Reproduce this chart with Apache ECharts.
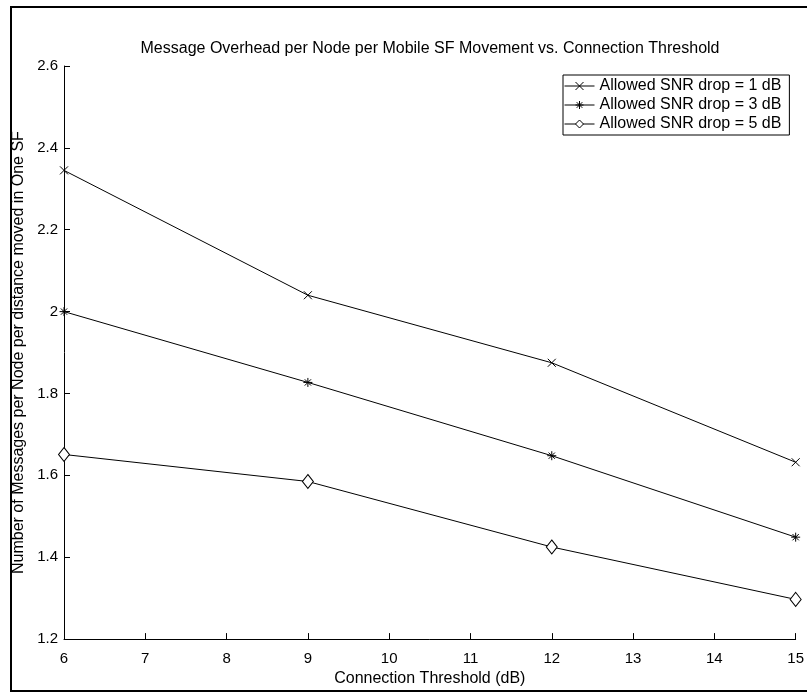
<!DOCTYPE html>
<html>
<head>
<meta charset="utf-8">
<script src="https://cdn.jsdelivr.net/npm/echarts@6/dist/echarts.min.js"></script>
<style>html,body{margin:0;padding:0;background:#fff}#c{width:807px;height:692px}</style>
</head>
<body>
<div id="c"></div>
<script>
var thresholds = [6, 9, 12, 15];
var snr1 = [2.345, 2.040, 1.875, 1.632];
var snr3 = [2.000, 1.827, 1.648, 1.449];
var snr5 = [1.651, 1.585, 1.425, 1.297];
var seriesNames = ['Allowed SNR drop = 1 dB', 'Allowed SNR drop = 3 dB', 'Allowed SNR drop = 5 dB'];
var xTicks = [6, 7, 8, 9, 10, 11, 12, 13, 14, 15];
var yTicks = [1.2, 1.4, 1.6, 1.8, 2, 2.2, 2.4, 2.6];

var FONT = 'Liberation Sans, Arial, Helvetica, sans-serif';
function pairs(ys) { return thresholds.map(function (x, i) { return [x, ys[i]]; }); }

var crossPath = 'path://M0,0L10,10M10,0L0,10';
var starPath = 'path://M5,0L5,10M0,5L10,5M1.5,1.5L8.5,8.5M8.5,1.5L1.5,8.5';

function mk(name, ys, symbol, size) {
  return {
    name: name, type: 'line', data: pairs(ys),
    symbol: symbol, symbolSize: size, showAllSymbol: true,
    lineStyle: { color: '#000', width: 1 },
    itemStyle: { color: '#fff', borderColor: '#000', borderWidth: 1 },
    emphasis: { disabled: true },
    animation: false
  };
}

var chart = echarts.init(document.getElementById('c'), null, { renderer: 'canvas' });
chart.setOption({
  backgroundColor: '#fff',
  animation: false,
  title: {
    text: 'Message Overhead per Node per Mobile SF Movement vs. Connection Threshold',
    left: 425, top: 36, textAlign: 'center',
    textStyle: { fontFamily: FONT, fontSize: 16, fontWeight: 'normal', color: '#000' }
  },
  legend: {
    data: seriesNames,
    orient: 'vertical', left: 563, top: 75,
    itemWidth: 30, itemHeight: 10, itemGap: 3, itemTextGap: 3,
    padding: [3, 8, 3, 1],
    borderColor: '#000', borderWidth: 1, backgroundColor: '#fff',
    lineStyle: { width: 1, color: '#000' },
    itemStyle: { borderWidth: 1, borderColor: '#000', color: '#fff' },
    textStyle: { fontFamily: FONT, fontSize: 16, lineHeight: 16, color: '#000' },
    selectedMode: false
  },
  grid: { left: 64, right: 8, top: 66, bottom: 45, containLabel: false },
  xAxis: {
    type: 'value', min: xTicks[0], max: xTicks[xTicks.length - 1], interval: 1,
    name: 'Connection Threshold (dB)', nameLocation: 'middle', nameGap: 30,
    nameTextStyle: { fontFamily: FONT, fontSize: 16, color: '#000' },
    axisLine: { lineStyle: { color: '#000', width: 1 } },
    axisTick: { inside: true, length: 6, lineStyle: { color: '#000' } },
    axisLabel: { fontFamily: FONT, fontSize: 15, color: '#000', margin: 12 },
    splitLine: { show: false }
  },
  yAxis: {
    type: 'value', min: yTicks[0], max: yTicks[yTicks.length - 1], interval: 0.2,
    name: 'Number of Messages per Node per distance moved in One SF', nameLocation: 'middle', nameGap: 33,
    nameTextStyle: { fontFamily: FONT, fontSize: 16, color: '#000' },
    axisLine: { show: true, lineStyle: { color: '#000', width: 1 } },
    axisTick: { show: true, inside: true, length: 6, lineStyle: { color: '#000' } },
    axisLabel: { fontFamily: FONT, fontSize: 15, color: '#000', margin: 6,
      formatter: function (v) { return String(Math.round(v * 10) / 10); } },
    splitLine: { show: false }
  },
  graphic: [{
    type: 'rect', shape: { x: 11, y: 7, width: 820, height: 684 },
    style: { fill: 'none', stroke: '#000', lineWidth: 2 }, silent: true, z: 100
  }],
  series: [
    mk(seriesNames[0], snr1, crossPath, 8),
    mk(seriesNames[1], snr3, starPath, 9),
    mk(seriesNames[2], snr5, 'diamond', [11, 14])
  ]
});
</script>
</body>
</html>
